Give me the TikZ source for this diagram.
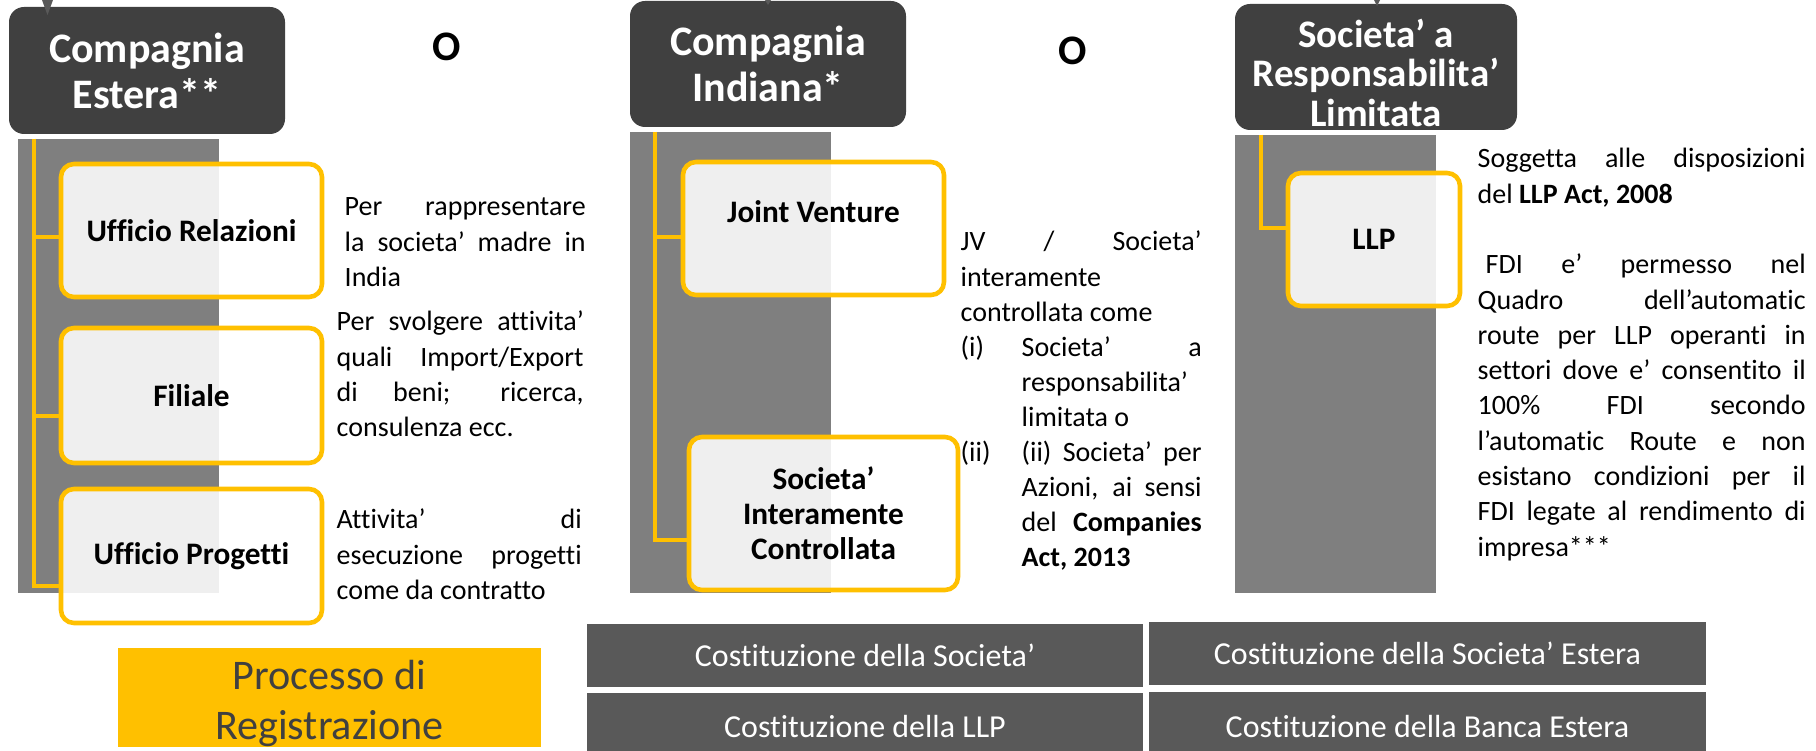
\documentclass[tikz,border=0pt]{standalone}
\usepackage{fontspec}
\setmainfont{Carlito}[Ligatures={NoCommon}]
\usepackage{xcolor}
\definecolor{hdrgray}{HTML}{404040}
\definecolor{bargray}{HTML}{7F7F7F}
\definecolor{amber}{HTML}{FFC000}
\definecolor{tilegray}{HTML}{595959}
\hyphenpenalty=10000
\exhyphenpenalty=10000
\tikzset{
  hdr/.style={fill=hdrgray,rounded corners=0.15cm,text=white,align=center,inner sep=0pt,font={\bfseries\fontsize{11.95}{13.1}\selectfont}},
  bar/.style={fill=bargray},
  sub/.style={draw=amber,line width=1.3pt,rounded corners=0.13cm,fill=white,fill opacity=0.88,text opacity=1,align=center,inner sep=0pt,font={\bfseries\fontsize{8.9}{9.96}\selectfont}},
  lnk/.style={draw=amber,line width=1.3pt},
  dsc/.style={anchor=base west,inner sep=0pt,align=justify,font={\fontsize{7.97}{9.96}\selectfont\emergencystretch=1cm}},
  orr/.style={inner sep=0pt,font={\bfseries\fontsize{11.95}{13}\selectfont}},
  tile/.style={fill=tilegray,text=white,inner sep=0pt,font={\fontsize{9.1}{11}\selectfont}},
  reg/.style={fill=amber,text=hdrgray,align=center,inner sep=0pt,font={\fontsize{12}{14.2}\selectfont}},
  tip/.style={fill=tilegray}
}
\newcommand{\itemrow}[2]{\par\noindent\makebox[0.61cm][l]{#1}\parbox[t]{1.80cm}{#2}\par\prevdepth=0pt}

\begin{document}
\begin{tikzpicture}
\useasboundingbox (0,0) rectangle (18.16,-7.51);
% gray bars behind the branches
\fill[bar] (0.18,-1.39) rectangle (2.19,-5.93);
\fill[bar] (6.30,-1.32) rectangle (8.31,-5.93);
\fill[bar] (12.35,-1.35) rectangle (14.36,-5.93);
% headers
\node[hdr,minimum width=2.76cm,minimum height=1.27cm] (hdrA) at (1.47,-0.705) {Compagnia\\Estera**};
\node[hdr,minimum width=2.76cm,minimum height=1.26cm] (hdrB) at (7.68,-0.64) {Compagnia\\Indiana*};
\node[hdr,minimum width=2.82cm,minimum height=1.26cm,font={\bfseries\fontsize{11.1}{11.24}\selectfont}] (hdrC) at (13.76,-0.67) {\rule{0pt}{0.40cm}Societa’ a\\Responsabilita’\\Limitata};
\fill[tip] (0.42,0) -- (0.53,0) -- (0.475,-0.15) -- cycle;
\fill[tip] (7.65,0) -- (7.71,0) -- (7.68,-0.05) -- cycle;
\fill[tip] (13.74,0) -- (13.80,0) -- (13.77,-0.06) -- cycle;
\node[orr] (oA) at (4.47,-0.47) {O};
\node[orr] (oB) at (10.725,-0.51) {O};
% branch boxes
\coordinate (trkA) at (0.34,-1.39);
\coordinate (trkB) at (6.55,-1.32);
\coordinate (trkC) at (12.61,-1.35);
\node[sub,minimum width=2.61cm,minimum height=1.33cm] (ufr) at (1.915,-2.305) {Ufficio Relazioni};
\node[sub,minimum width=2.61cm,minimum height=1.35cm] (fil) at (1.915,-3.955) {Filiale};
\node[sub,minimum width=2.61cm,minimum height=1.34cm] (upr) at (1.915,-5.56) {Ufficio Progetti};
\node[sub,minimum width=2.61cm,minimum height=1.33cm] (jv) at (8.135,-2.285) {\raisebox{0.165cm}[\height][\depth]{Joint Venture}};
\node[sub,minimum width=2.69cm,minimum height=1.53cm] (sic) at (8.235,-5.135) {Societa’\\Interamente\\Controllata};
\node[sub,minimum width=1.72cm,minimum height=1.33cm] (llp) at (13.74,-2.395) {LLP};
\draw[lnk] (trkA) |- ([yshift=-0.065cm]ufr.west);
\draw[lnk] (trkA) |- ([yshift=-0.205cm]fil.west);
\draw[lnk] (trkA) |- ([yshift=-0.30cm]upr.west);
\draw[lnk] (trkB) |- ([yshift=-0.085cm]jv.west);
\draw[lnk] (trkB) |- ([yshift=-0.265cm]sic.west);
\draw[lnk] (trkC) |- ([yshift=0.115cm]llp.west);
% descriptions
\node[dsc,text width=2.41cm] (dscA) at (3.44,-2.16) {Per rappresentare\linebreak la societa’ madre in\linebreak India};
\node[dsc,text width=2.47cm] (dscB) at (3.36,-3.31) {Per svolgere attivita’\linebreak quali Import/Export\linebreak di beni; ricerca,\linebreak consulenza ecc.};
\node[dsc,text width=2.45cm] (dscC) at (3.36,-5.29) {Attivita’ di\linebreak esecuzione progetti\linebreak come da contratto};
\node[dsc,text width=2.41cm] (dscJ) at (9.60,-2.51) {JV / Societa’\linebreak interamente\linebreak controllata come
\itemrow{(i)}{Societa’ a\linebreak responsabilita’\linebreak limitata o}
\itemrow{(ii)}{(ii) Societa’ per\linebreak Azioni, ai sensi\linebreak del \textbf{Companies}\linebreak \textbf{Act, 2013}}};
\node[dsc,text width=3.28cm,font={\fontsize{7.97}{10.04}\selectfont\emergencystretch=1cm}] (dscL) at (14.77,-1.68) {Soggetta alle disposizioni\linebreak del \textbf{LLP Act, 2008}\par\vspace{\baselineskip}
\hspace{0.08cm}FDI e’ permesso nel\linebreak Quadro dell’automatic\linebreak route per LLP operanti in\linebreak settori dove e’ consentito il\linebreak 100\% FDI secondo\linebreak l’automatic Route e non\linebreak esistano condizioni per il\linebreak FDI legate al rendimento di\linebreak impresa***};
% registration row
\node[reg,minimum width=4.23cm,minimum height=0.99cm] (proc) at (3.295,-6.975) {\rule{0pt}{0.42cm}Processo di\\Registrazione};
\node[tile,minimum width=5.56cm,minimum height=0.63cm] (cso) at (8.65,-6.555) {Costituzione della Societa’};
\node[tile,minimum width=5.57cm,minimum height=0.63cm] (cse) at (14.275,-6.535) {Costituzione della Societa’ Estera};
\node[tile,minimum width=5.56cm,minimum height=0.68cm] (cll) at (8.65,-7.27) {Costituzione della LLP};
\node[tile,minimum width=5.57cm,minimum height=0.69cm] (cbe) at (14.275,-7.265) {Costituzione della Banca Estera};
\end{tikzpicture}
\end{document}
